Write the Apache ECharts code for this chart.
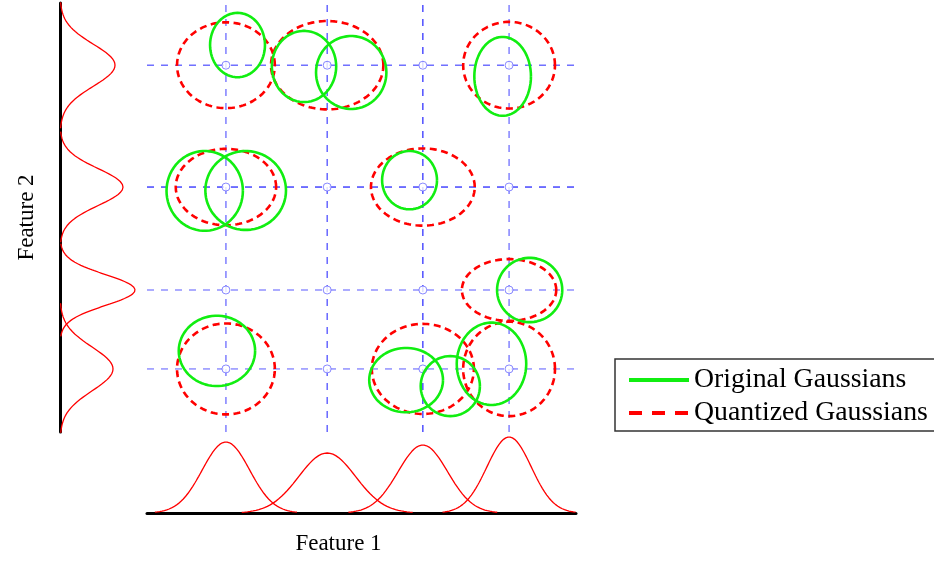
<!DOCTYPE html>
<html>
<head>
<meta charset="utf-8">
<script src="https://cdn.jsdelivr.net/npm/echarts@6/dist/echarts.min.js"></script>
<style>html,body{margin:0;padding:0;background:#fff}#c{width:934px;height:561px}</style>
</head>
<body>
<div id="c"></div>
<script>
// Quantization levels (feature units)
const xLevels = [1.84, 4.20, 6.43, 8.44];
const yLevels = [1.47, 3.31, 5.71, 8.55];

// Original Gaussians (ellipse center / half-axes, feature units)
const origCx = [2.11, 3.66, 4.76, 8.29, 1.345, 2.30, 6.12, 8.92, 1.63, 6.04, 7.07, 8.03];
const origCy = [9.02, 8.52, 8.38, 8.29, 5.62, 5.63, 5.87, 3.31, 1.89, 1.21, 1.07, 1.59];
const origRx = [0.64, 0.75, 0.82, 0.66, 0.89, 0.94, 0.64, 0.76, 0.89, 0.86, 0.69, 0.81];
const origRy = [0.75, 0.83, 0.85, 0.92, 0.93, 0.92, 0.68, 0.75, 0.82, 0.75, 0.70, 0.96];

// Quantized Gaussians
const quantCx = [1.84, 4.20, 8.44, 1.84, 6.43, 8.44, 1.84, 6.43, 8.44];
const quantCy = [8.55, 8.55, 8.55, 5.71, 5.71, 3.31, 1.47, 1.47, 1.47];
const quantRx = [1.14, 1.31, 1.07, 1.17, 1.21, 1.10, 1.14, 1.19, 1.07];
const quantRy = [1.00, 1.03, 1.01, 0.89, 0.90, 0.72, 1.06, 1.05, 1.10];

// Marginal Gaussians
const feat1Mean = [1.84, 4.20, 6.43, 8.44];
const feat1Sigma = [0.552, 0.664, 0.578, 0.517];
const feat1Peak = [0.71, 0.60, 0.68, 0.76];
const feat2Mean = [8.55, 5.71, 3.31, 1.47];
const feat2Sigma = [0.49, 0.43, 0.36, 0.51];
const feat2Peak = [0.55, 0.63, 0.75, 0.53];

const vColors = ['#6b6bff', '#5050ff', '#3535ff', '#7070ff'];
const hColors = ['#8080ff', '#8080ff', '#2a2aff', '#5a5aff'];

function ellipsePts(cx, cy, rx, ry) {
  const pts = [];
  const N = 140;
  for (let i = 0; i <= N; i++) {
    const t = 2 * Math.PI * i / N;
    pts.push([cx + rx * Math.cos(t), cy + ry * Math.sin(t)]);
  }
  return pts;
}
function gaussPts(mu, sigma, peak, swap) {
  const pts = [];
  const N = 120;
  for (let i = 0; i <= N; i++) {
    const v = mu - 3 * sigma + 6 * sigma * i / N;
    const d = peak * Math.exp(-((v - mu) * (v - mu)) / (2 * sigma * sigma));
    pts.push(swap ? [d, v] : [v, d]);
  }
  return pts;
}

const serif = 'Liberation Serif';
const series = [];

// grid lines
xLevels.forEach((x, i) => series.push({
  type: 'line', xAxisIndex: 0, yAxisIndex: 0, symbol: 'none', silent: true, z: 1,
  lineStyle: { color: vColors[i], width: 1.3, type: [7, 7] },
  data: [[x, 0], [x, 10]]
}));
yLevels.forEach((y, i) => series.push({
  type: 'line', xAxisIndex: 0, yAxisIndex: 0, symbol: 'none', silent: true, z: 1,
  lineStyle: { color: hColors[i], width: 1.3, type: [7, 7] },
  data: [[0, y], [10, y]]
}));
// grid markers
const markers = [];
xLevels.forEach(x => yLevels.forEach(y => markers.push([x, y])));
series.push({
  type: 'scatter', xAxisIndex: 0, yAxisIndex: 0, symbol: 'circle', symbolSize: 8, z: 2,
  itemStyle: { color: '#fff', borderColor: '#6a6aff', borderWidth: 1 },
  data: markers
});
// quantized
quantCx.forEach((cx, i) => series.push({
  name: 'Quantized Gaussians', type: 'line', xAxisIndex: 0, yAxisIndex: 0, symbol: 'none', z: 3,
  color: '#ff0000',
  lineStyle: { color: '#ff0000', width: 2.6, type: [7, 4.5] },
  data: ellipsePts(cx, quantCy[i], quantRx[i], quantRy[i])
}));
// original
origCx.forEach((cx, i) => series.push({
  name: 'Original Gaussians', type: 'line', xAxisIndex: 0, yAxisIndex: 0, symbol: 'none', z: 4,
  color: '#11ee11',
  lineStyle: { color: '#11ee11', width: 2.6 },
  data: ellipsePts(cx, origCy[i], origRx[i], origRy[i])
}));
// marginals
feat1Mean.forEach((m, i) => series.push({
  type: 'line', xAxisIndex: 1, yAxisIndex: 1, symbol: 'none', silent: true,
  lineStyle: { color: '#ff0000', width: 1.3 },
  data: gaussPts(m, feat1Sigma[i], feat1Peak[i], false)
}));
feat2Mean.forEach((m, i) => series.push({
  type: 'line', xAxisIndex: 2, yAxisIndex: 2, symbol: 'none', silent: true,
  lineStyle: { color: '#ff0000', width: 1.3 },
  data: gaussPts(m, feat2Sigma[i], feat2Peak[i], true)
}));

const hidden = { show: false };
const option = {
  animation: false,
  backgroundColor: '#fff',
  grid: [
    { left: 147, top: 3, width: 429, height: 429 },
    { left: 147, width: 429, top: 433, height: 80 },
    { left: 60, width: 80, top: 3, height: 429 }
  ],
  xAxis: [
    { gridIndex: 0, type: 'value', min: 0, max: 10, axisLine: hidden, axisTick: hidden, axisLabel: hidden, splitLine: hidden },
    { gridIndex: 1, type: 'value', min: 0, max: 10, axisLine: { show: true, onZero: false, lineStyle: { color: '#000', width: 3 } },
      axisTick: hidden, axisLabel: hidden, splitLine: hidden,
      name: 'Feature 1', nameLocation: 'middle', nameGap: 19,
      nameTextStyle: { fontFamily: serif, fontSize: 23, color: '#000', padding: [0, 46, 0, 0] } },
    { gridIndex: 2, type: 'value', min: 0, max: 0.8, axisLine: hidden, axisTick: hidden, axisLabel: hidden, splitLine: hidden }
  ],
  yAxis: [
    { gridIndex: 0, type: 'value', min: 0, max: 10, axisLine: hidden, axisTick: hidden, axisLabel: hidden, splitLine: hidden },
    { gridIndex: 1, type: 'value', min: 0, max: 0.8, axisLine: hidden, axisTick: hidden, axisLabel: hidden, splitLine: hidden },
    { gridIndex: 2, type: 'value', min: 0, max: 10, axisLine: { show: true, onZero: false, lineStyle: { color: '#000', width: 3 } },
      axisTick: hidden, axisLabel: hidden, splitLine: hidden,
      name: 'Feature 2', nameLocation: 'middle', nameGap: 22,
      nameTextStyle: { fontFamily: serif, fontSize: 23, color: '#000' } }
  ],
  legend: {
    data: [
      { name: 'Original Gaussians', lineStyle: { width: 4, color: '#11ee11' } },
      { name: 'Quantized Gaussians', lineStyle: { width: 4, color: '#ff0000', type: [13, 10] } }
    ],
    orient: 'vertical', left: 615, top: 359,
    itemWidth: 60, itemHeight: 12, itemGap: 5,
    padding: [7, 14, 4, 12],
    borderColor: '#333', borderWidth: 1.5, borderRadius: 0,
    backgroundColor: '#fff',
    selectedMode: false,
    itemStyle: { opacity: 0 },
    textStyle: { fontFamily: serif, fontSize: 27.8, color: '#000' }
  },
  series: series
};
const chart = echarts.init(document.getElementById('c'), null, { renderer: 'canvas' });
chart.setOption(option);
</script>
</body>
</html>
